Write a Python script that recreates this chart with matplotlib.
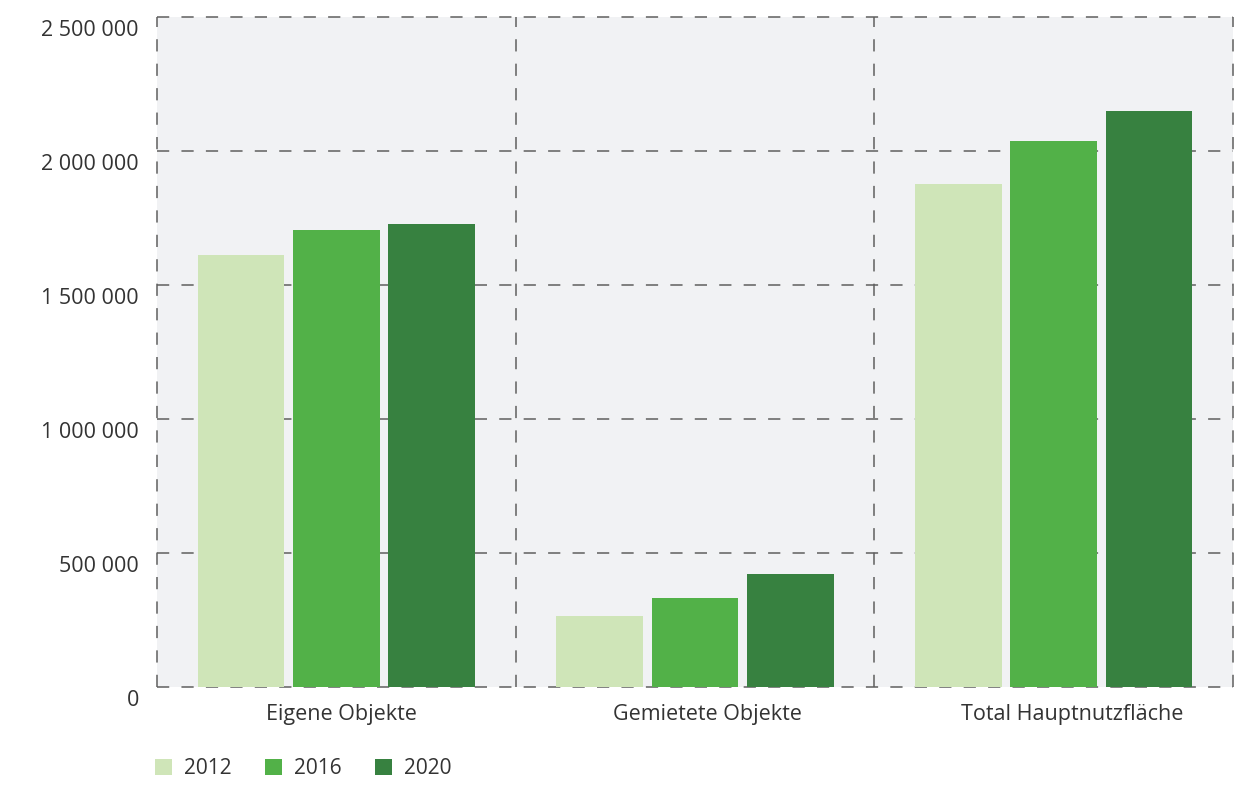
import matplotlib
matplotlib.use("Agg")
import matplotlib.pyplot as plt
import matplotlib.transforms as mtransforms
from matplotlib.patches import Patch
import numpy as np

categories = ["Eigene Objekte", "Gemietete Objekte", "Total Hauptnutzfläche"]
years = ["2012", "2016", "2020"]
values_2012 = [1612000, 265000, 1877000]
values_2016 = [1705000, 332000, 2037000]
values_2020 = [1728000, 422000, 2150000]
yticks = [0, 500000, 1000000, 1500000, 2000000, 2500000]
ytick_labels = ["0", "500 000", "1 000 000", "1 500 000", "2 000 000", "2 500 000"]

colors = ["#cfe5b8", "#52b148", "#378140"]
series = [values_2012, values_2016, values_2020]

plt.rcParams['font.family'] = ['Open Sans', 'DejaVu Sans']
text_color = "#333333"

fig = plt.figure(figsize=(12.49, 7.89), dpi=100)
ax = fig.add_axes([157/1249, 1 - 687/789, (1233-157)/1249, (687-17)/789])
ax.set_facecolor("#f1f2f4")

x = np.arange(len(categories))
width = 0.242
spacing = 0.266
for i, (vals, col) in enumerate(zip(series, colors)):
    ax.bar(x + (i - 1) * spacing, vals, width=width, color=col, zorder=3, label=years[i])

ax.set_xlim(-0.5, len(categories) - 0.5)
ax.set_ylim(0, 2500000)

grid_kw = dict(color="#5f5f5f", lw=1.1, linestyle=(0, (8, 8)), zorder=2, clip_on=False)
for yv in yticks:
    ax.axhline(yv, **grid_kw)
for xv in np.arange(-0.5, len(categories), 1.0):
    ax.axvline(xv, **grid_kw)

for s in ax.spines.values():
    s.set_visible(False)

ax.set_yticks(yticks)
ax.set_yticklabels(ytick_labels, fontsize=15.5, color=text_color)
ax.set_xticks(x)
ax.set_xticklabels(categories, fontsize=15.5, color=text_color)
ax.tick_params(axis='both', length=0)
ax.tick_params(axis='y', pad=13)
ax.tick_params(axis='x', pad=12)

off = mtransforms.ScaledTranslation(0, -11/100, fig.dpi_scale_trans)
for lab in ax.get_yticklabels():
    lab.set_transform(lab.get_transform() + off)

xshift = [5, 12, 19]
for lab, dx in zip(ax.get_xticklabels(), xshift):
    lab.set_transform(lab.get_transform() + mtransforms.ScaledTranslation(dx/100, 0, fig.dpi_scale_trans))

handles = [Patch(facecolor=c, edgecolor='none', label=y) for c, y in zip(colors, years)]
fig.legend(handles=handles, loc='center left', bbox_to_anchor=(155/1249, 1 - 769/789),
           ncol=3, frameon=False, fontsize=15, handlelength=0.82, handleheight=0.82,
           handletextpad=0.58, columnspacing=1.6, labelcolor=text_color,
           borderaxespad=0, borderpad=0)

fig.savefig("out.png", dpi=100, facecolor="white")
